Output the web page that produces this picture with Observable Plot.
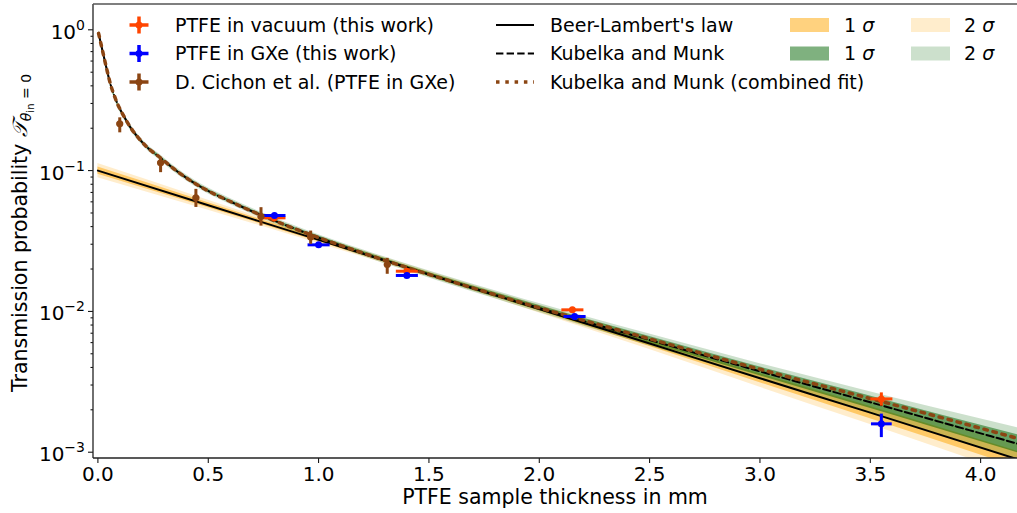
<!DOCTYPE html>
<html><head><meta charset="utf-8">
<script src="https://cdn.jsdelivr.net/npm/d3@7"></script>
<script src="https://cdn.jsdelivr.net/npm/@observablehq/plot@0.6"></script>
<style>
body{margin:0;background:#fff;}
svg{font-family:"DejaVu Sans";}
</style>
</head><body><div id="chart"></div>
<script>
// ---------- data ----------
const xTicks = [0, 0.5, 1.0, 1.5, 2.0, 2.5, 3.0, 3.5, 4.0];
const xTickLabels = ["0.0","0.5","1.0","1.5","2.0","2.5","3.0","3.5","4.0"];
const yTicks = [1, 0.1, 0.01, 0.001];
const yTickExponents = ["0", "\u22121", "\u22122", "\u22123"];
const yMinorTicks = [0.002,0.003,0.004,0.005,0.006,0.007,0.008,0.009,
  0.02,0.03,0.04,0.05,0.06,0.07,0.08,0.09,
  0.2,0.3,0.4,0.5,0.6,0.7,0.8,0.9];

// PTFE in vacuum (this work)
const vacX = [0.80, 1.40, 2.15, 3.55];
const vacY = [0.0462, 0.0193, 0.01026, 0.00239];
const vacYlo = [0.0452, 0.0189, 0.0100, 0.00214];
const vacYhi = [0.0472, 0.0197, 0.0105, 0.00266];
const vacXerr = [0.05, 0.05, 0.05, 0.05];

// PTFE in GXe (this work)
const gxeX = [0.80, 1.00, 1.40, 2.16, 3.55];
const gxeY = [0.048, 0.0297, 0.018, 0.0092, 0.00159];
const gxeYlo = [0.047, 0.0291, 0.0176, 0.0090, 0.00128];
const gxeYhi = [0.049, 0.0303, 0.0184, 0.0094, 0.00188];
const gxeXerr = [0.05, 0.05, 0.05, 0.05, 0.047];

// D. Cichon et al. (PTFE in GXe)
const ciX = [0.099, 0.284, 0.444, 0.739, 0.964, 1.311];
const ciY = [0.215, 0.1136, 0.0641, 0.0472, 0.0337, 0.0215];
const ciYlo = [0.187, 0.0975, 0.0552, 0.0407, 0.0302, 0.0185];
const ciYhi = [0.239, 0.124, 0.0742, 0.055, 0.0375, 0.024];
const ciXerr = [0.015, 0.015, 0.015, 0.015, 0.015, 0.015];

// Beer-Lambert's law with 1 and 2 sigma bands (band half-widths in decades)
const blX = [0, 0.5, 1.0, 1.5, 2.0, 2.5, 3.0, 3.5, 4.17];
const blY = [0.1, 0.0568, 0.0322, 0.01832, 0.0104, 0.00591, 0.00335, 0.00191, 0.000888];
const blSig1 = [0.025, 0.018, 0.013, 0.011, 0.014, 0.021, 0.032, 0.043, 0.057];
const blSig2 = [0.05, 0.036, 0.025, 0.021, 0.028, 0.043, 0.064, 0.085, 0.114];

// Kubelka and Munk with 1 and 2 sigma bands
const kmX = [0.003,0.015,0.027,0.042,0.058,0.073,0.088,0.118,0.15,0.178,0.22,0.284,0.36,0.465,0.6,0.737,0.963,1.2,1.371,1.7,2.0,2.217,2.504,3.0,3.41,3.8,4.17];
const kmY = [0.944,0.78,0.645,0.51,0.405,0.345,0.300,0.243,0.200,0.175,0.148,0.123,0.0985,0.0768,0.0603,0.0484,0.0351,0.026,0.0212,0.01462,0.01057,0.00839,0.00624,0.00375,0.00248,0.001667,0.001146];
const kmSig1 = [0.011,0.011,0.011,0.011,0.011,0.011,0.011,0.011,0.011,0.011,0.011,0.011,0.011,0.011,0.011,0.011,0.011,0.012,0.013,0.016,0.018,0.02,0.024,0.031,0.042,0.052,0.064];
const kmSig2 = [0.021,0.021,0.021,0.021,0.021,0.021,0.021,0.021,0.021,0.021,0.021,0.021,0.021,0.021,0.021,0.021,0.021,0.023,0.024,0.028,0.032,0.036,0.042,0.055,0.071,0.09,0.114];

// Kubelka and Munk (combined fit)
const kmcX = kmX;
const kmcY = [0.944,0.78,0.645,0.51,0.405,0.345,0.300,0.243,0.200,0.175,0.148,0.123,0.0985,0.0768,0.0603,0.0484,0.0351,0.026,0.0212,0.01465,0.0106,0.0085,0.00636,0.00388,0.00262,0.0018,0.00125];

// ---------- build tables ----------
const pts = (X, Y, lo, hi, xe) => X.map((x, i) => ({x, y: Y[i], lo: lo[i], hi: hi[i], x1: x - xe[i], x2: x + xe[i]}));
const vac = pts(vacX, vacY, vacYlo, vacYhi, vacXerr);
const gxe = pts(gxeX, gxeY, gxeYlo, gxeYhi, gxeXerr);
const ci = pts(ciX, ciY, ciYlo, ciYhi, ciXerr);
const band = (X, Y, s1, s2) => X.map((x, i) => ({x, y: Y[i],
  lo1: Y[i] / Math.pow(10, s1[i]), hi1: Y[i] * Math.pow(10, s1[i]),
  lo2: Y[i] / Math.pow(10, s2[i]), hi2: Y[i] * Math.pow(10, s2[i])}));
const bl = band(blX, blY, blSig1, blSig2);
const km = band(kmX, kmY, kmSig1, kmSig2);
const kmc = kmcX.map((x, i) => ({x, y: kmcY[i]}));

const C_VAC = "#FF4500", C_GXE = "#0000FF", C_CI = "#8B4513";

const errMarks = (data, color) => [
  Plot.link(data, {x1: "x1", x2: "x2", y1: "y", y2: "y", stroke: color, strokeWidth: 3, clip: true}),
  Plot.link(data, {x1: "x", x2: "x", y1: "lo", y2: "hi", stroke: color, strokeWidth: 3, clip: true}),
  Plot.dot(data, {x: "x", y: "y", r: 3.5, fill: color, stroke: null, clip: true})
];

const ML = 93, MR = 0, MT = 4, MB = 55, W = 1017, H = 513;

const chart = Plot.plot({
  width: W, height: H,
  marginLeft: ML, marginRight: MR, marginTop: MT, marginBottom: MB,
  style: {fontFamily: "DejaVu Sans", background: "white", color: "black", overflow: "visible"},
  x: {domain: [-0.02, 4.167]},
  y: {type: "log", domain: [0.000902, 1.513]},
  marks: [
    Plot.areaY(bl, {x: "x", y1: "lo2", y2: "hi2", fill: "orange", fillOpacity: 0.2, curve: "monotone-x", clip: true}),
    Plot.areaY(bl, {x: "x", y1: "lo1", y2: "hi1", fill: "orange", fillOpacity: 0.5, curve: "monotone-x", clip: true}),
    Plot.areaY(km, {x: "x", y1: "lo2", y2: "hi2", fill: "darkgreen", fillOpacity: 0.2, curve: "monotone-x", clip: true}),
    Plot.areaY(km, {x: "x", y1: "lo1", y2: "hi1", fill: "darkgreen", fillOpacity: 0.5, curve: "monotone-x", clip: true}),
    Plot.line(bl, {x: "x", y: "y", stroke: "black", strokeWidth: 2, curve: "monotone-x", clip: true}),
    Plot.line(km, {x: "x", y: "y", stroke: "black", strokeWidth: 2, strokeDasharray: "7.4,3.2", curve: "monotone-x", clip: true}),
    Plot.line(kmc, {x: "x", y: "y", stroke: C_CI, strokeWidth: 3.5, strokeDasharray: "3.5,5.8", curve: "monotone-x", clip: true}),
    ...errMarks(vac, C_VAC),
    ...errMarks(gxe, C_GXE),
    ...errMarks(ci, C_CI),
    Plot.axisX({ticks: xTicks, tickFormat: d => xTickLabels[xTicks.indexOf(d)], tickSize: 5, tickPadding: 3, fontSize: 20, label: null}),
    Plot.axisY({ticks: yTicks, tickFormat: () => "", tickSize: 5, label: null}),
    Plot.axisY({ticks: yMinorTicks, tickFormat: () => "", tickSize: 2.5, label: null})
  ]
});

document.getElementById("chart").appendChild(chart);
const svg = d3.select(chart);
const sx = chart.scale("x"), sy = chart.scale("y");
const [X0, X1] = sx.range, [Y0, Y1] = sy.range; // Y0 bottom, Y1 top

// y tick labels with superscript exponents
const yt = svg.append("g").attr("font-size", 20).attr("fill", "black").attr("text-anchor", "end");
yTicks.forEach((v, i) => {
  const t = yt.append("text").attr("x", X0 - 8).attr("y", sy.apply(v) + 9.5);
  t.append("tspan").text("10");
  t.append("tspan").attr("font-size", 14).attr("dy", -9).text(yTickExponents[i]);
});

// spines
const sp = svg.append("g").attr("fill", "none");
sp.append("line").attr("x1", X0).attr("x2", X0).attr("y1", Y1).attr("y2", Y0).attr("stroke", "#222").attr("stroke-width", 1.3);
sp.append("line").attr("x1", X0).attr("x2", X1).attr("y1", Y0).attr("y2", Y0).attr("stroke", "#222").attr("stroke-width", 1.3);
sp.append("line").attr("x1", X0).attr("x2", X1).attr("y1", Y1).attr("y2", Y1).attr("stroke", "#555").attr("stroke-width", 1.3);

// axis labels
svg.append("text").attr("x", (X0 + X1) / 2).attr("y", 504).attr("text-anchor", "middle")
  .attr("font-size", 20.5).attr("fill", "black").text("PTFE sample thickness in mm");

const yl = svg.append("text").attr("transform", `translate(27,${(Y0 + Y1) / 2 + 2}) rotate(-90)`)
  .attr("text-anchor", "middle").attr("font-size", 20.5).attr("fill", "black");
yl.append("tspan").text("Transmission probability ");
yl.append("tspan").attr("font-family", "DejaVu Serif").attr("font-style", "italic").text("\uD835\uDCAF");
yl.append("tspan").attr("font-size", 14).attr("dy", 4).attr("font-style", "italic").text("\u03B8");
yl.append("tspan").attr("font-size", 10).attr("dy", 3).text("in");
yl.append("tspan").attr("font-size", 14).attr("dy", -3).text(" = 0");

// legend
const lg = svg.append("g").attr("font-size", 19).attr("fill", "black").attr("text-anchor", "start");
const errRows = [["PTFE in vacuum (this work)", C_VAC], ["PTFE in GXe (this work)", C_GXE], ["D. Cichon et al. (PTFE in GXe)", C_CI]];
const rowY = [25, 53.5, 82];
errRows.forEach(([t, c], i) => {
  const y = rowY[i], cx = 139;
  lg.append("line").attr("x1", cx - 9.5).attr("x2", cx + 9.5).attr("y1", y).attr("y2", y).attr("stroke", c).attr("stroke-width", 3.5);
  lg.append("line").attr("x1", cx).attr("x2", cx).attr("y1", y - 8.5).attr("y2", y + 8.5).attr("stroke", c).attr("stroke-width", 3.5);
  lg.append("circle").attr("cx", cx).attr("cy", y).attr("r", 3.5).attr("fill", c);
  lg.append("text").attr("x", 175).attr("y", y).attr("dy", "0.36em").attr("text-anchor", "start").text(t);
});
const lineRows = [["Beer-Lambert's law", "black", 2, null], ["Kubelka and Munk", "black", 2, "7.4,3.2"], ["Kubelka and Munk (combined fit)", C_CI, 3.5, "3.5,5.8"]];
lineRows.forEach(([t, c, w, d], i) => {
  const y = rowY[i];
  const l = lg.append("line").attr("x1", 496).attr("x2", 534).attr("y1", y).attr("y2", y).attr("stroke", c).attr("stroke-width", w);
  if (d) l.attr("stroke-dasharray", d);
  lg.append("text").attr("x", 550).attr("y", y).attr("dy", "0.36em").attr("text-anchor", "start").text(t);
});
const patchRows = [[790, 844, "1", "orange", 0.5, 0], [790, 844, "1", "darkgreen", 0.5, 1], [911, 964, "2", "orange", 0.2, 0], [911, 964, "2", "darkgreen", 0.2, 1]];
patchRows.forEach(([px, tx, n, c, o, r]) => {
  const y = rowY[r];
  lg.append("rect").attr("x", px).attr("y", y - 7).attr("width", 39).attr("height", 14).attr("fill", c).attr("fill-opacity", o);
  const t = lg.append("text").attr("x", tx).attr("y", y).attr("dy", "0.36em").attr("text-anchor", "start");
  t.append("tspan").text(n + " ");
  t.append("tspan").attr("font-style", "italic").text("\u03C3");
});
</script>
</body></html>
